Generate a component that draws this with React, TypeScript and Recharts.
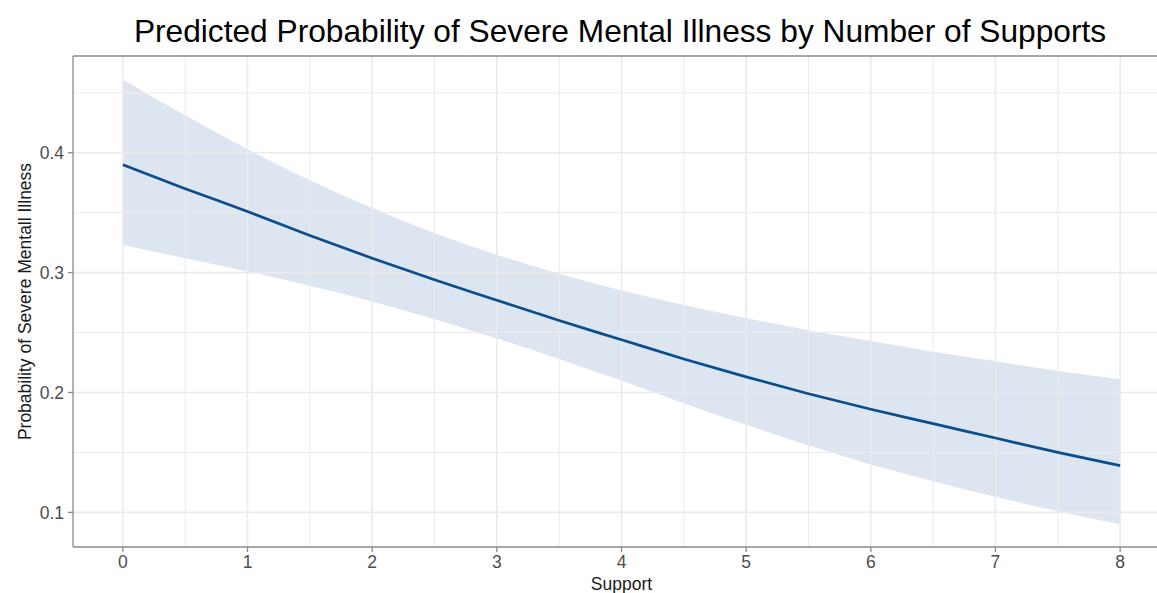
import React from "react";
import {
  ComposedChart,
  Area,
  Line,
  XAxis,
  YAxis,
  ReferenceLine,
} from "recharts";

// Number of supports (x) and model predictions
const supports = [0, 0.5, 1, 1.5, 2, 2.5, 3, 3.5, 4, 4.5, 5, 5.5, 6, 6.5, 7, 7.5, 8];
const fitValues = [0.390, 0.370, 0.351, 0.331, 0.312, 0.294, 0.277, 0.260, 0.244, 0.228, 0.213, 0.199, 0.186, 0.174, 0.162, 0.150, 0.139];
const upperValues = [0.461, 0.431, 0.403, 0.377, 0.354, 0.333, 0.315, 0.299, 0.285, 0.273, 0.262, 0.252, 0.243, 0.234, 0.226, 0.218, 0.211];
const lowerValues = [0.323, 0.312, 0.301, 0.289, 0.276, 0.261, 0.245, 0.228, 0.210, 0.191, 0.173, 0.156, 0.140, 0.126, 0.113, 0.101, 0.090];

const xTicks = [0, 1, 2, 3, 4, 5, 6, 7, 8];
const yTicks = [0.1, 0.2, 0.3, 0.4];
const xMinorGrid = [0.5, 1.5, 2.5, 3.5, 4.5, 5.5, 6.5, 7.5];
const yMinorGrid = [0.15, 0.25, 0.35, 0.45];

const title = "Predicted Probability of Severe Mental Illness by Number of Supports";
const xTitle = "Support";
const yTitle = "Probability of Severe Mentall Illness";

const data = supports.map((s, i) => ({
  support: s,
  fit: fitValues[i],
  band: [lowerValues[i], upperValues[i]],
}));

const FONT = "'Liberation Sans', Arial, Helvetica, sans-serif";
const X_DOMAIN: [number, number] = [-0.4, 8.4];
const Y_DOMAIN: [number, number] = [0.0711, 0.4807];
const GRID = "#ebebeb";
const AXIS = "#8a8a8a";

export default function App() {
  return (
    <div
      style={{
        position: "fixed",
        left: 0,
        top: 0,
        width: 1157,
        height: 593,
        overflow: "hidden",
        background: "#ffffff",
      }}
    >
      <svg
        width={1157}
        height={56}
        style={{ position: "absolute", left: 0, top: 0 }}
      >
        <text
          x={620}
          y={42}
          textAnchor="middle"
          fontFamily={FONT}
          fontSize={31.7}
          fill="#000000"
        >
          {title}
        </text>
      </svg>
      <ComposedChart
        width={1175}
        height={593}
        data={data}
        margin={{ top: 56, right: 5, bottom: 0, left: 0 }}
      >
        <XAxis
          dataKey="support"
          type="number"
          domain={X_DOMAIN}
          allowDataOverflow
          ticks={xTicks}
          height={46}
          tickSize={5}
          tickMargin={4}
          tick={{ fill: "#4d4d4d", fontSize: 17.5, fontFamily: FONT }}
          tickLine={{ stroke: AXIS, strokeWidth: 1.3 }}
          axisLine={{ stroke: AXIS, strokeWidth: 1.3 }}
          label={{
            content: (props: any) => {
              const vb = props.viewBox || { x: 73, y: 547, width: 1097 };
              return (
                <text
                  x={vb.x + vb.width / 2}
                  y={vb.y + 43}
                  textAnchor="middle"
                  fontFamily={FONT}
                  fontSize={17.5}
                  fill="#1a1a1a"
                >
                  {xTitle}
                </text>
              );
            },
          }}
        />
        <YAxis
          type="number"
          domain={Y_DOMAIN}
          allowDataOverflow
          ticks={yTicks}
          width={73}
          tickSize={5}
          tickMargin={4}
          tickFormatter={(v: number) => v.toFixed(1)}
          tick={{ fill: "#4d4d4d", fontSize: 17.5, fontFamily: FONT }}
          tickLine={{ stroke: AXIS, strokeWidth: 1.3 }}
          axisLine={{ stroke: AXIS, strokeWidth: 1.3 }}
          label={{
            content: (props: any) => {
              const vb = props.viewBox || { x: 0, y: 56, width: 73, height: 491 };
              const cx = 31;
              const cy = vb.y + vb.height / 2;
              return (
                <text
                  x={cx}
                  y={cy}
                  transform={`rotate(-90, ${cx}, ${cy})`}
                  textAnchor="middle"
                  fontFamily={FONT}
                  fontSize={17.5}
                  fill="#1a1a1a"
                >
                  {yTitle}
                </text>
              );
            },
          }}
        />
        {xMinorGrid.map((v) => (
          <ReferenceLine key={`xm${v}`} x={v} stroke={GRID} strokeWidth={1} />
        ))}
        {yMinorGrid.map((v) => (
          <ReferenceLine key={`ym${v}`} y={v} stroke={GRID} strokeWidth={1} />
        ))}
        {xTicks.map((v) => (
          <ReferenceLine key={`x${v}`} x={v} stroke={GRID} strokeWidth={1.6} />
        ))}
        {yTicks.map((v) => (
          <ReferenceLine key={`y${v}`} y={v} stroke={GRID} strokeWidth={1.6} />
        ))}
        <ReferenceLine y={Y_DOMAIN[1]} stroke={AXIS} strokeWidth={1.3} />
        <Area
          dataKey="band"
          type="monotone"
          stroke="none"
          fill="#b9cbe2"
          fillOpacity={0.5}
          isAnimationActive={false}
          activeDot={false}
        />
        <Line
          dataKey="fit"
          type="monotone"
          stroke="#0b4e8e"
          strokeWidth={2.7}
          dot={false}
          activeDot={false}
          isAnimationActive={false}
        />
      </ComposedChart>
    </div>
  );
}
